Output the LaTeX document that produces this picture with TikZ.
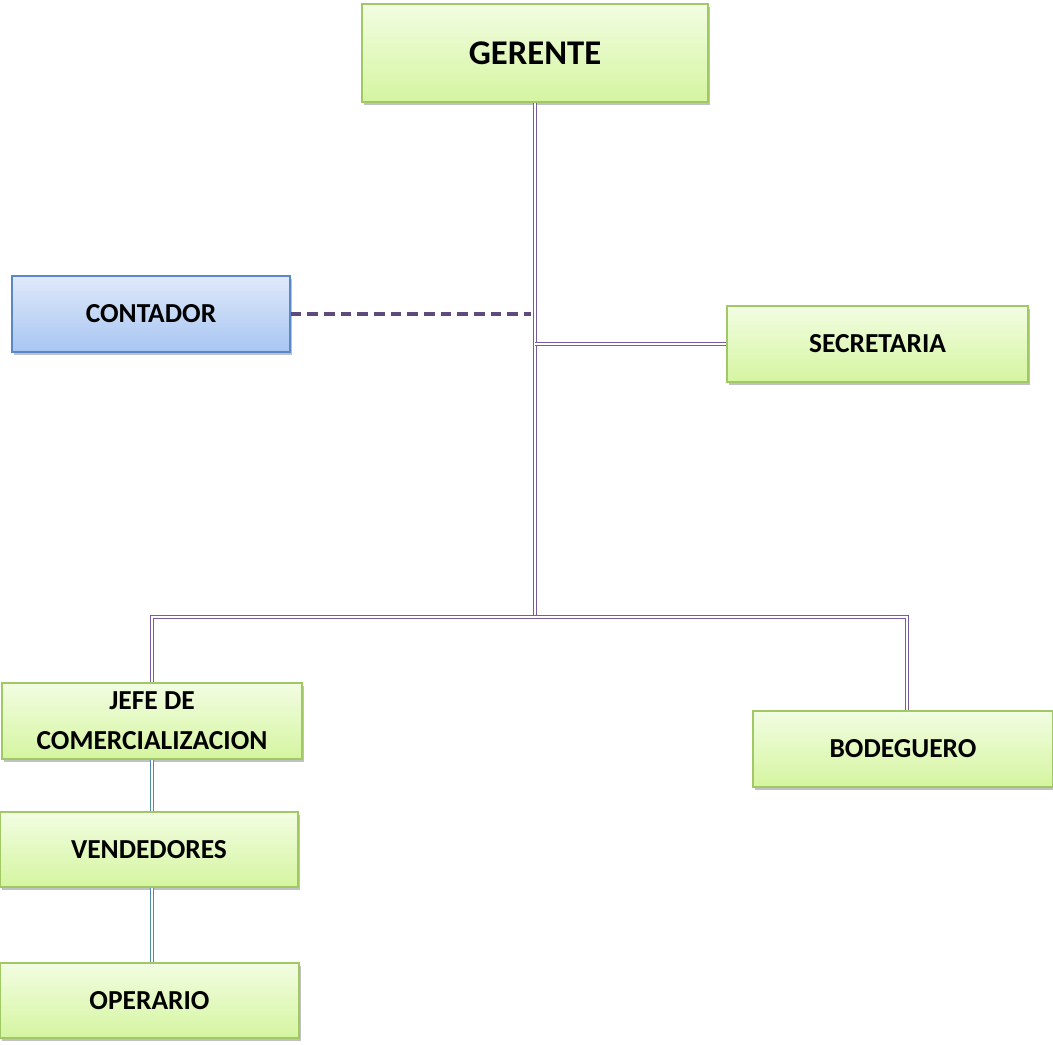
\documentclass[tikz,border=0pt]{standalone}
\usepackage{fontspec}
\setmainfont{Carlito}
\usetikzlibrary{shadows}
\definecolor{gtop}{RGB}{242,253,226}
\definecolor{gbot}{RGB}{213,245,160}
\definecolor{gborder}{RGB}{160,200,100}
\definecolor{btop}{RGB}{223,233,250}
\definecolor{bbot}{RGB}{168,197,242}
\definecolor{bborder}{RGB}{90,135,200}
\definecolor{lilac}{RGB}{120,92,156}
\definecolor{dashc}{RGB}{96,74,123}
\definecolor{tealc}{RGB}{80,140,170}
\tikzset{
  sz/.style 2 args={minimum width=#1*0.75pt, minimum height=#2*0.75pt},
  base/.style={rectangle, inner sep=0pt, line width=0.8pt, align=center,
    font=\bfseries\fontsize{20.6}{30}\selectfont,
    drop shadow={shadow xshift=1.5pt, shadow yshift=-2pt, opacity=0.35, fill=black!70}},
  greenbox/.style={base, draw=gborder, top color=gtop, bottom color=gbot},
  bluebox/.style={base, draw=bborder, top color=btop, bottom color=bbot},
  dbl/.style={draw=lilac, line width=1.1pt, double=white, double distance=1.3pt},
  dblb/.style={draw=tealc, line width=1.1pt, double=white, double distance=1.3pt},
  dashln/.style={draw=dashc, line width=2.6pt, dash pattern=on 8pt off 4.5pt}
}
\begin{document}
\begin{tikzpicture}[x=0.75pt, y=-0.75pt]
\useasboundingbox (0,0) rectangle (1053,1045);
\node[greenbox, sz={346}{98}, font=\bfseries\fontsize{26}{30}\selectfont] (gerente) at (535,53) {GERENTE};
\node[bluebox, sz={278}{76}] (contador) at (151,314) {CONTADOR};
\node[greenbox, sz={301}{76}] (secretaria) at (877.5,344) {SECRETARIA};
\node[greenbox, sz={300}{76}] (jefe) at (152,721) {JEFE DE\\COMERCIALIZACION};
\node[greenbox, sz={300}{76}] (bodeguero) at (903,749) {BODEGUERO};
\node[greenbox, sz={298}{75}] (vendedores) at (149,849.5) {VENDEDORES};
\node[greenbox, sz={299}{75}] (operario) at (149.5,1000.5) {OPERARIO};
\coordinate (busL) at (152,617);
\coordinate (busR) at (907,617);
% connectors
\draw[dbl] (gerente.south) -- (gerente.south |- busL);
\draw[dbl] (jefe.north) -- (busL) -- (busR) -- (busR |- bodeguero.north);
\draw[dbl] (gerente.south |- secretaria.west) -- (secretaria.west);
\draw[dashln] (contador.east) -- ([xshift=-3]gerente.south |- contador.east);
\draw[dblb] (jefe.south) -- (jefe.south |- vendedores.north);
\draw[dblb] (jefe.south |- vendedores.south) -- (jefe.south |- operario.north);
\end{tikzpicture}
\end{document}
